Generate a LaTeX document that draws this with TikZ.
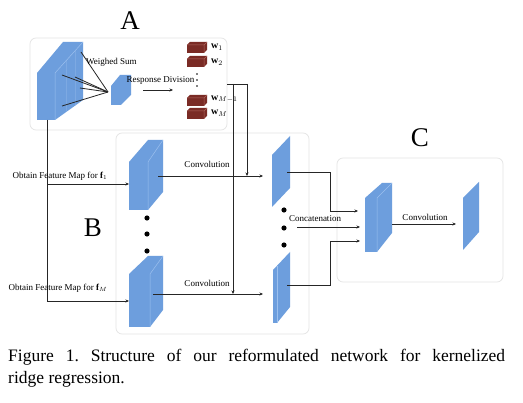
\documentclass[tikz,border=0pt]{standalone}
\usepackage{fontspec}
\setmainfont{Liberation Serif}
\usetikzlibrary{arrows.meta}
\definecolor{cubeblue}{HTML}{6D9EDD}
\definecolor{cubeedge}{HTML}{9CC0EE}
\definecolor{wbrown}{HTML}{7A2B25}
\definecolor{wtop}{HTML}{B0675F}
\definecolor{panel}{HTML}{E4E4E4}
\frenchspacing
\begin{document}
\begin{tikzpicture}[x=1pt,y=-1pt,
  panelbox/.style={draw=panel, line width=0.7pt, rounded corners=6pt},
  conn/.style={draw=black!85, line width=0.8pt},
  arr/.style={conn, -{Stealth[length=3.5pt,width=3pt]}},
  lbl/.style={font=\fontsize{9}{10}\selectfont, inner sep=0pt},
  wlbl/.style={font=\fontsize{10}{11}\selectfont, inner sep=0pt, anchor=west},
  biglbl/.style={font=\fontsize{27}{30}\selectfont, inner sep=0pt},
  edge/.style={draw=cubeedge, line width=0.5pt},
  wedge/.style={draw=wtop, line width=0.5pt}]
\useasboundingbox (0,0) rectangle (523,403);
\fill[white] (0,0) rectangle (523,403);
% panels
\draw[panelbox] (30,38) rectangle (227,130);
\draw[panelbox] (116,133) rectangle (309,334);
\draw[panelbox] (337,158) rectangle (503,282);
\node[biglbl] (labA) at (130,21) {A};
\node[biglbl] (labB) at (93,228) {B};
\node[biglbl] (labC) at (420,138) {C};
% ---------- A ----------
\fill[cubeblue] (37,73) -- (63,42) -- (83,42) -- (83,100) -- (55,120) -- (37,120) -- cycle;
\draw[edge] (55,73) -- (83,42) (55,73) -- (55,120);
\draw[edge, opacity=0.35] (66,61) -- (66,112) (75,51) -- (75,106);
\fill[cubeblue] (111,86) -- (120,75) -- (131,75) -- (131,95) -- (121,105) -- (111,105) -- cycle;
\coordinate (ws) at (108,92);
\coordinate (s1) at (81,52);
\coordinate (s2) at (62,75);
\coordinate (s3) at (75,77);
\coordinate (s4) at (80,88);
\coordinate (s5) at (62,106);
\foreach \s in {s1,s2,s3,s4,s5} \draw[conn] (\s) -- (ws);
\node[lbl, anchor=west] (wsum) at (86,62) {Weighed Sum};
\node[lbl] (rdiv) at (160.5,80) {Response Division};
\coordinate (rdA) at (143,90);
\coordinate (rdB) at (173,90);
\draw[arr] (rdA) -- (rdB);
\foreach \yy in {74,80,86} \fill (197,\yy) circle (0.9);
% w blocks
\foreach \yy in {42,56,95,108} {
  \fill[wbrown] (187,\yy+3) -- (190,\yy) -- (207,\yy) -- (207,\yy+8) -- (204,\yy+11) -- (187,\yy+11) -- cycle;
  \draw[wedge] (187,\yy+3) -- (204,\yy+3) -- (207,\yy) (204,\yy+3) -- (204,\yy+11);
}
\node[wlbl] (w1) at (211,47) {$\mathbf{w}_{1}$};
\node[wlbl] (w2) at (211,62) {$\mathbf{w}_{2}$};
\node[wlbl] (wM1) at (211,99) {$\mathbf{w}_{M-1}$};
\node[wlbl] (wM) at (211,113) {$\mathbf{w}_{M}$};
% connectors from A to B
\coordinate (aout) at (227,84);
\coordinate (j1) at (233,84);
\coordinate (j2) at (247,84);
\coordinate (t1) at (247,176);
\coordinate (t2) at (233,294);
\draw[conn] (aout) -- (j2);
\draw[arr] (j2) -- (t1);
\draw[arr] (j1) -- (t2);
% ---------- B ----------
\fill[cubeblue] (129,162) -- (148,140) -- (163,140) -- (163,192) -- (148,210) -- (129,210) -- cycle;
\draw[edge] (148,162) -- (163,140) (148,162) -- (148,210);
\fill[cubeblue] (129,274) -- (148,256) -- (163,256) -- (163,310) -- (150,327) -- (129,327) -- cycle;
\draw[edge] (150,274) -- (163,256) (150,274) -- (150,327);
\foreach \yy in {218,234,251} \fill (147,\yy) circle (2.6);
\coordinate (fsrc) at (47,120);
\coordinate (in1) at (129,184);
\coordinate (in2) at (129,301);
\draw[arr] (fsrc) |- (in1);
\draw[arr] (fsrc) |- (in2);
\node[lbl] (of1) at (60,176) {Obtain Feature Map for $\mathbf{f}_{1}$};
\node[lbl] (ofM) at (58,288) {Obtain Feature Map for $\mathbf{f}_{M}$};
\coordinate (c1a) at (158,176);
\coordinate (c1b) at (263,176);
\coordinate (c2a) at (153,294);
\coordinate (c2b) at (263,294);
\draw[arr] (c1a) -- (c1b);
\draw[arr] (c2a) -- (c2b);
\node[lbl] (conv1) at (207,164) {Convolution};
\node[lbl] (conv2) at (207,283) {Convolution};
% right slabs
\fill[cubeblue] (272,155) -- (290,136) -- (290,188) -- (272,207) -- cycle;
\fill[cubeblue] (273,270) -- (290,252) -- (290,307) -- (277,323) -- (273,323) -- cycle;
\draw[edge] (277,266) -- (277,323);
\foreach \yy in {210,228,245} \fill (284,\yy) circle (2.6);
\coordinate (o1) at (287,172);
\coordinate (o2) at (297,227);
\coordinate (o3) at (287,285);
\coordinate (i1) at (358,211);
\coordinate (i2) at (360,227);
\coordinate (i3) at (360,241);
\draw[arr] (o1) -- (330,172) |- (i1);
\draw[arr] (o2) -- (i2);
\draw[arr] (o3) -- (330,285) |- (i3);
\node[lbl] (concat) at (315,219) {Concatenation};
% ---------- C ----------
\fill[cubeblue] (365,198) -- (382,183) -- (392,183) -- (392,233) -- (377,252) -- (365,252) -- cycle;
\draw[edge] (377,198) -- (392,183) (377,198) -- (377,252);
\fill[cubeblue] (463,198) -- (479,182) -- (479,232) -- (463,250) -- cycle;
\coordinate (cc1) at (392,224);
\coordinate (cc2) at (456,224);
\draw[arr] (cc1) -- (cc2);
\node[lbl] (conv3) at (425,217) {Convolution};
% caption
\node[anchor=north west, inner sep=0pt, text width=497pt, align=justify,
  font=\fontsize{17.5}{22}\selectfont] (cap) at (8,348.5)
  {\noindent Figure 1. Structure of our reformulated network for kernelized\linebreak ridge regression.};
\end{tikzpicture}
\end{document}
